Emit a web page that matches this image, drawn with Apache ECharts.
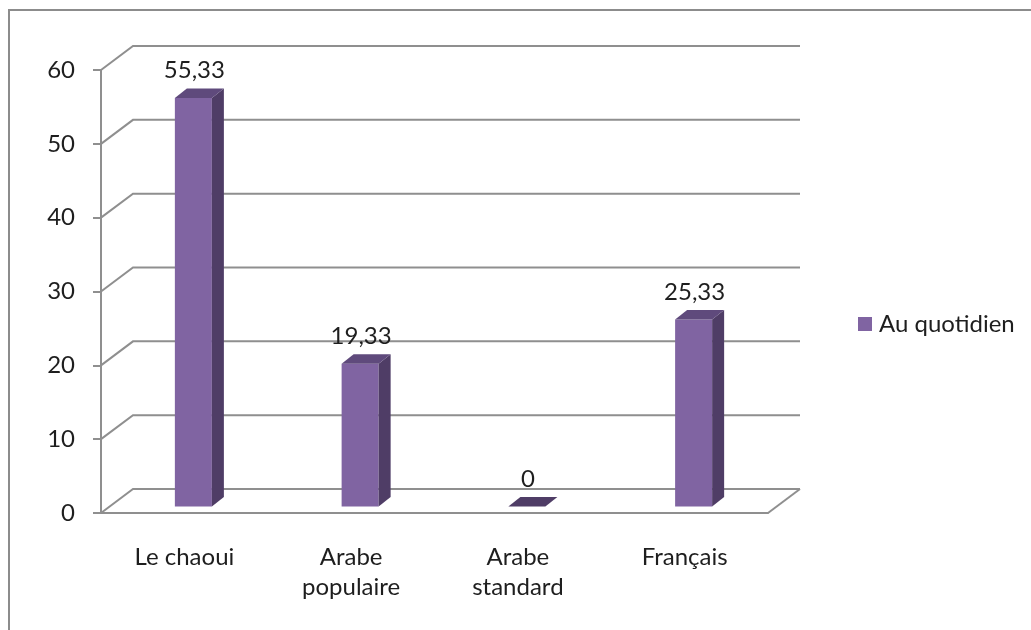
<!DOCTYPE html>
<html>
<head>
<meta charset="utf-8">
<title>Au quotidien</title>
<script src="https://cdn.jsdelivr.net/npm/echarts@6/dist/echarts.min.js"></script>
<style>
  html, body { margin: 0; padding: 0; background: #ffffff; }
  #chart { width: 1031px; height: 630px; }
</style>
</head>
<body>
<div id="chart"></div>
<script>
// Chart data
const categories = ['Le chaoui', 'Arabe\npopulaire', 'Arabe\nstandard', 'Français'];
const values = [55.33, 19.33, 0, 25.33];
const yTicks = [0, 10, 20, 30, 40, 50, 60];
const seriesName = 'Au quotidien';

// Pseudo-3D geometry (pixels)
const WALL = [32, -24];        // offset from front plane to back wall
const BAR_FRONT = [9, -6.5];   // offset of a bar's front face from the front plane
const BAR_DEPTH = [12, -9.5];  // depth of each bar
const BAR_RATIO = 0.222;       // bar width relative to category band

const GRID_COLOR = '#8f8f8f';
const FRONT = '#8064A2';
const SIDE = '#4F3D66';
const TOP = '#5F4A7C';
const TEXT = '#1e1e1e';
const FONT = 'Lato, "Open Sans", sans-serif';
const FONT_SIZE = 24;

const chart = echarts.init(document.getElementById('chart'), null, { renderer: 'canvas' });

function formatValue(v) {
  return String(v).replace('.', ',');
}

// Back wall gridlines with the diagonal joining them to the front axis
function renderWall(params, api) {
  const cs = params.coordSys;
  const v = api.value(1);
  const y = api.coord([0, v])[1];
  const x0 = cs.x, x1 = cs.x + cs.width;
  const children = [{
    type: 'polyline',
    shape: { points: [[x0, y], [x0 + WALL[0], y + WALL[1]], [x1 + WALL[0], y + WALL[1]]] },
    style: { stroke: GRID_COLOR, lineWidth: 2, fill: null }
  }];
  if (v === 0) {
    // right edge of the floor
    children.push({
      type: 'line',
      shape: { x1: x1, y1: y, x2: x1 + WALL[0], y2: y + WALL[1] },
      style: { stroke: GRID_COLOR, lineWidth: 2 }
    });
  }
  return { type: 'group', children: children };
}

// Box-shaped bars: front, side and top faces plus value label
function renderBar(params, api) {
  const i = api.value(0);
  const v = api.value(1);
  const top = api.coord([i, v]);
  const base = api.coord([i, 0]);
  const w = api.size([1, 0])[0] * BAR_RATIO;
  const xl = top[0] + BAR_FRONT[0] - w / 2;
  const xr = xl + w;
  const yt = top[1] + BAR_FRONT[1];
  const yb = base[1] + BAR_FRONT[1];
  const dx = BAR_DEPTH[0], dy = BAR_DEPTH[1];
  const children = [];
  if (yb - yt > 0.5) {
    children.push({
      type: 'rect',
      shape: { x: xl, y: yt, width: w, height: yb - yt },
      style: { fill: FRONT }
    });
    children.push({
      type: 'polygon',
      shape: { points: [[xr, yb], [xr, yt], [xr + dx, yt + dy], [xr + dx, yb + dy]] },
      style: { fill: SIDE }
    });
  }
  children.push({
    type: 'polygon',
    shape: { points: [[xl, yt], [xr, yt], [xr + dx, yt + dy], [xl + dx, yt + dy]] },
    style: { fill: yb - yt > 0.5 ? TOP : SIDE }
  });
  children.push({
    type: 'text',
    style: {
      text: formatValue(v),
      x: (xl + xr) / 2 + 1,
      y: yt + dy - 18,
      align: 'center',
      verticalAlign: 'middle',
      fill: TEXT,
      font: FONT_SIZE + 'px ' + FONT
    }
  });
  return { type: 'group', children: children };
}

const option = {
  backgroundColor: '#ffffff',
  animation: false,
  textStyle: { fontFamily: FONT },
  graphic: [{
    type: 'rect',
    shape: { x: 9, y: 10, width: 1040, height: 640 },
    style: { fill: null, stroke: '#8c8c8c', lineWidth: 2 },
    silent: true
  }],
  legend: {
    data: [{ name: seriesName, icon: 'rect' }],
    left: 853,
    top: 307,
    itemWidth: 14,
    itemHeight: 14,
    textStyle: { fontSize: FONT_SIZE, color: TEXT, fontFamily: FONT, padding: [0, 0, 0, 2] }
  },
  grid: { left: 101, right: 263, top: 70, bottom: 117 },
  xAxis: {
    type: 'category',
    data: categories,
    boundaryGap: true,
    axisLine: { lineStyle: { color: GRID_COLOR, width: 2 } },
    axisTick: { length: 6, lineStyle: { color: GRID_COLOR, width: 2 } },
    axisLabel: { color: TEXT, fontSize: FONT_SIZE, lineHeight: 30, margin: 29, fontFamily: FONT }
  },
  yAxis: {
    type: 'value',
    min: 0,
    max: 60,
    interval: 10,
    splitLine: { show: false },
    axisLine: { show: true, lineStyle: { color: GRID_COLOR, width: 2 } },
    axisTick: { show: true, length: 8, lineStyle: { color: GRID_COLOR, width: 2 } },
    axisLabel: { color: TEXT, fontSize: FONT_SIZE, margin: 26, fontFamily: FONT }
  },
  series: [
    {
      type: 'custom',
      name: 'wall',
      z: 1,
      silent: true,
      renderItem: renderWall,
      data: yTicks.map(function (t) { return [0, t]; })
    },
    {
      type: 'custom',
      name: seriesName,
      z: 3,
      itemStyle: { color: FRONT },
      renderItem: renderBar,
      data: values.map(function (v, i) { return [i, v]; })
    }
  ]
};

chart.setOption(option);
</script>
</body>
</html>
